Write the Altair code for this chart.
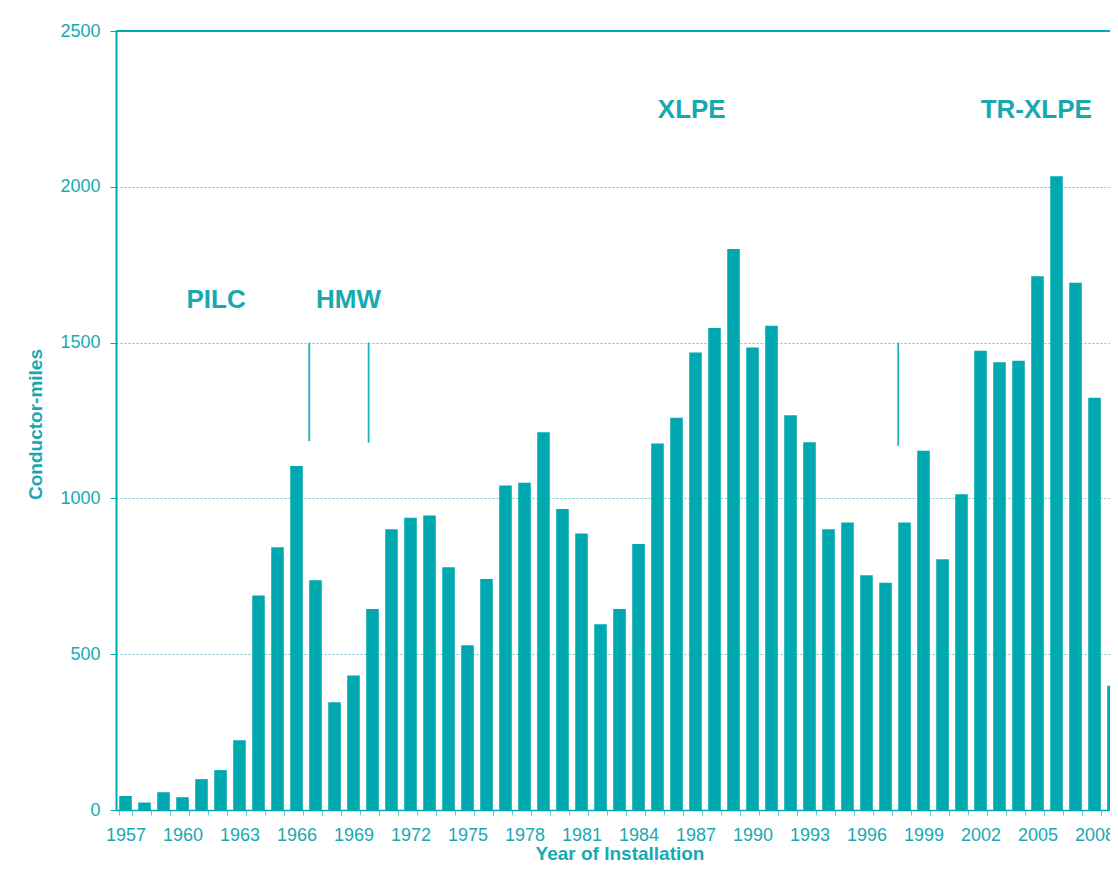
import altair as alt
import pandas as pd

# ---- data ----
years = list(range(1957, 2010))
miles = [45, 24, 57, 41, 99, 128, 224,
         688, 843, 1104, 737, 346, 432, 645,
         901, 938, 945, 779, 529, 741, 1041,
         1050, 1212, 966, 887, 596, 645, 854,
         1176, 1259, 1468, 1547, 1800, 1484, 1554,
         1267, 1180, 901, 923, 753, 729, 923,
         1153, 805, 1013, 1474, 1437, 1442, 1713,
         2034, 1692, 1323, 399]

ann_text = ["PILC", "HMW", "XLPE", "TR-XLPE"]
ann_year = [1962, 1969, 1987, 2005]
ann_band = [0.15, 0.1, 0.2, 0.4]
ann_value = [1637, 1637, 2248, 2248]

mark_year = [1967, 1970, 1998]
mark_band = [0.0, 0.19, 0.0]
mark_top = [1500, 1500, 1500]
mark_bottom = [1184, 1179, 1169]

y_ticks = [0, 500, 1000, 1500, 2000, 2500]

TEAL = "#00A8B0"
TXT = "#17A9B1"
GRID = "#6CCCD3"
FONT = "Liberation Sans"

W = 994
H = 779
STEP = 19.0

df = pd.DataFrame({"year": years, "miles": miles})

xscale = alt.Scale(domain=years, range=[0, STEP * len(years)],
                   paddingInner=0.34, paddingOuter=0.17)
yscale = alt.Scale(domain=[0, 2500], nice=False)

x_axis = alt.Axis(
    title="Year of Installation",
    labelExpr="(datum.value - 1957) % 3 == 0 ? datum.label : ''",
    labelAngle=0, labelOverlap=False, tickBand="extent",
    tickSize=5, tickColor=GRID, domainColor=TEAL, domainWidth=1.5,
    labelFont=FONT, labelFontSize=18, labelColor=TXT, labelPadding=11,
    titleFont=FONT, titleFontSize=19, titleFontWeight="bold", titleColor=TXT,
    titleY=49, titleBaseline="alphabetic", grid=False,
)
y_axis = alt.Axis(
    title="Conductor-miles", values=y_ticks, format="d",
    tickSize=6, tickColor=TEAL, domainColor=TEAL, domainWidth=2,
    labelFont=FONT, labelFontSize=18, labelColor=TXT, labelPadding=10,
    titleFont=FONT, titleFontSize=19, titleFontWeight="bold", titleColor=TXT,
    titleX=-81, titleY=393, titleAngle=-90, titleAlign="center", titleBaseline="middle",
    grid=True, gridColor=GRID, gridDash=[2, 2], gridWidth=1,
)

bars = alt.Chart(df).mark_bar(color=TEAL).encode(
    x=alt.X("year:O", scale=xscale, axis=x_axis),
    y=alt.Y("miles:Q", scale=yscale, axis=y_axis),
)

top_line = alt.Chart(df).mark_rule(color=TEAL, strokeWidth=2).encode(
    y=alt.datum(2500, scale=yscale),
)

layers = [bars, top_line]

for yr, bp, t, b in zip(mark_year, mark_band, mark_top, mark_bottom):
    d = pd.DataFrame({"year": [yr], "miles": [t], "bottom": [b]})
    layers.append(
        alt.Chart(d).mark_rule(color="#1DB4BC", strokeWidth=1.8).encode(
            x=alt.X("year:O", scale=xscale, axis=x_axis, bandPosition=bp),
            y=alt.Y("miles:Q", scale=yscale, axis=y_axis),
            y2="bottom:Q",
        )
    )

for txt, yr, bp, val in zip(ann_text, ann_year, ann_band, ann_value):
    d = pd.DataFrame({"year": [yr], "miles": [val], "label": [txt]})
    layers.append(
        alt.Chart(d).mark_text(font=FONT, fontSize=26, fontWeight="bold", color=TXT,
                               align="center", baseline="middle").encode(
            x=alt.X("year:O", scale=xscale, axis=x_axis, bandPosition=bp),
            y=alt.Y("miles:Q", scale=yscale, axis=y_axis),
            text="label:N",
        )
    )

chart = alt.layer(*layers).properties(
    width=W, height=H,
    autosize=alt.AutoSizeParams(type="none"),
    padding={"left": 108, "top": 23, "right": 0, "bottom": 54},
).configure_view(stroke=None)

chart.save("out.html", embed_options={"renderer": "svg", "actions": False})
